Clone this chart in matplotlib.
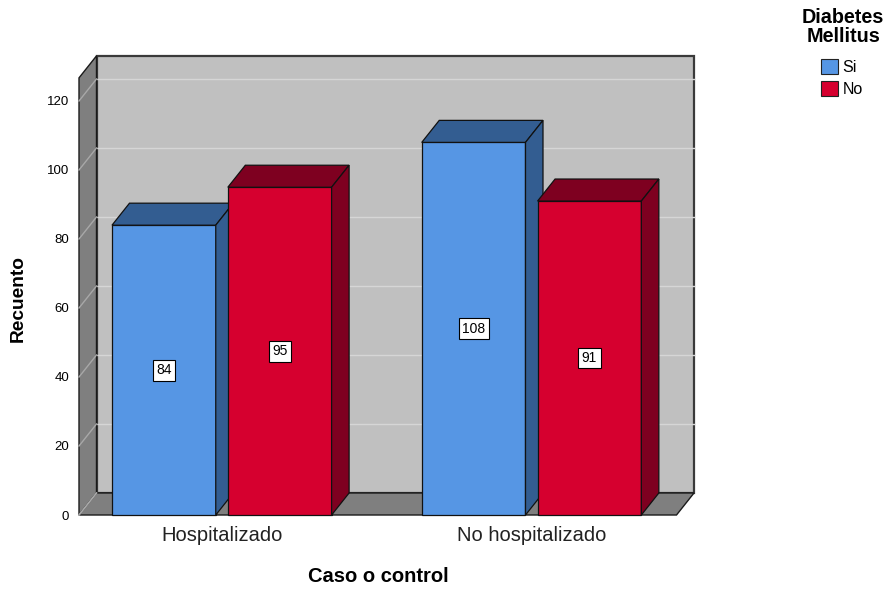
import matplotlib.pyplot as plt
from matplotlib.patches import Polygon, Patch

plt.rcParams['font.family'] = ['Liberation Sans', 'DejaVu Sans']

# counts per group
categorias = ['Hospitalizado', 'No hospitalizado']
series = ['Si', 'No']
si = [84, 108]
no = [95, 91]

front_col = {'Si': '#5696E4', 'No': '#D6002F'}
dark_col = {'Si': '#335D91', 'No': '#7E0020'}

# 3d look: depth offset in data units
dx = 0.0565
dy = 6.38
bw = 0.335       # bar width
gap = 0.039
xl, xr = -0.461, 1.468
ytop = 126.7

fig = plt.figure(figsize=(8.88, 5.90), dpi=100)
ax = fig.add_axes([79/888, 75/590, 615/888, 460/590])
ax.set_xlim(xl, xr + dx)
ax.set_ylim(0, 133.33)
for s in ax.spines.values():
    s.set_visible(False)

# walls and floor
ax.add_patch(Polygon([(xl+dx, dy), (xr+dx, dy), (xr+dx, ytop+dy), (xl+dx, ytop+dy)],
                     closed=True, fc='#C0C0C0', ec='#3A3A3A', lw=1.6, clip_on=False, zorder=1))
ax.add_patch(Polygon([(xl, 0), (xl+dx, dy), (xl+dx, ytop+dy), (xl, ytop)],
                     closed=True, fc='#7F7F7F', ec='#1A1A1A', lw=1.0, clip_on=False, zorder=2))
ticks = list(range(0, 121, 20))
for v in ticks:
    if v > 0:
        ax.plot([xl+dx, xr+dx], [v+dy, v+dy], color='#D6D6D6', lw=1.0, zorder=1.5, clip_on=False)
    ax.plot([xl, xl+dx], [v, v+dy], color='#A8A8A8', lw=1.0, zorder=2.5, clip_on=False)
ax.add_patch(Polygon([(xl, 0), (xr, 0), (xr+dx, dy), (xl+dx, dy)],
                     closed=True, fc='#7F7F7F', ec='#1A1A1A', lw=1.0, clip_on=False, zorder=2))
ax.plot([xl, xl+dx], [0, dy], color='#A8A8A8', lw=1.0, zorder=2.6, clip_on=False)

# bars, left to right so the next front face hides the previous side
z = 3
for i, cat in enumerate(categorias):
    for name, vals, off in [('Si', si, -(bw+gap)/2), ('No', no, (bw+gap)/2)]:
        v = vals[i]
        x0 = i + off - bw/2
        x1 = i + off + bw/2
        kw = dict(closed=True, ec='#111111', lw=0.9, clip_on=False, zorder=z)
        ax.add_patch(Polygon([(x0, 0), (x1, 0), (x1, v), (x0, v)], fc=front_col[name], **kw))
        ax.add_patch(Polygon([(x0, v), (x1, v), (x1+dx, v+dy), (x0+dx, v+dy)], fc=dark_col[name], **kw))
        ax.add_patch(Polygon([(x1, 0), (x1+dx, dy), (x1+dx, v+dy), (x1, v)], fc=dark_col[name], **kw))
        ax.text(i + off, v/2, str(v), ha='center', va='center', fontsize=10, zorder=z+0.5,
                bbox=dict(boxstyle='square,pad=0.25', fc='white', ec='black', lw=0.8))
        z += 1

ax.set_yticks(ticks)
ax.set_xticks(range(len(categorias)))
ax.set_xticklabels(categorias, fontsize=14.5, color='#222222')
ax.tick_params(axis='y', length=0, pad=7, labelsize=9.5)
ax.tick_params(axis='x', length=0, pad=8)

fig.text(18/888, 1-298/590, 'Recuento', rotation=90, ha='center', va='center',
         fontsize=13.8, fontweight='bold')
fig.text(378/888, 1-576/590, 'Caso o control', ha='center', va='center',
         fontsize=14.5, fontweight='bold')

# legend
fig.text(843/888, 1-27/590, 'Diabetes\nMellitus', ha='center', va='center',
         multialignment='center', fontsize=14.2, fontweight='bold', linespacing=1.05)
handles = [Patch(fc=front_col[s], ec='#222222', lw=0.8) for s in series]
fig.legend(handles, series, loc='upper left', bbox_to_anchor=(821/888, 1-59/590),
           frameon=False, fontsize=11.5, borderpad=0, borderaxespad=0,
           handlelength=1.05, handleheight=1.05, handletextpad=0.3, labelspacing=0.4)

fig.savefig('out.png', dpi=100)
